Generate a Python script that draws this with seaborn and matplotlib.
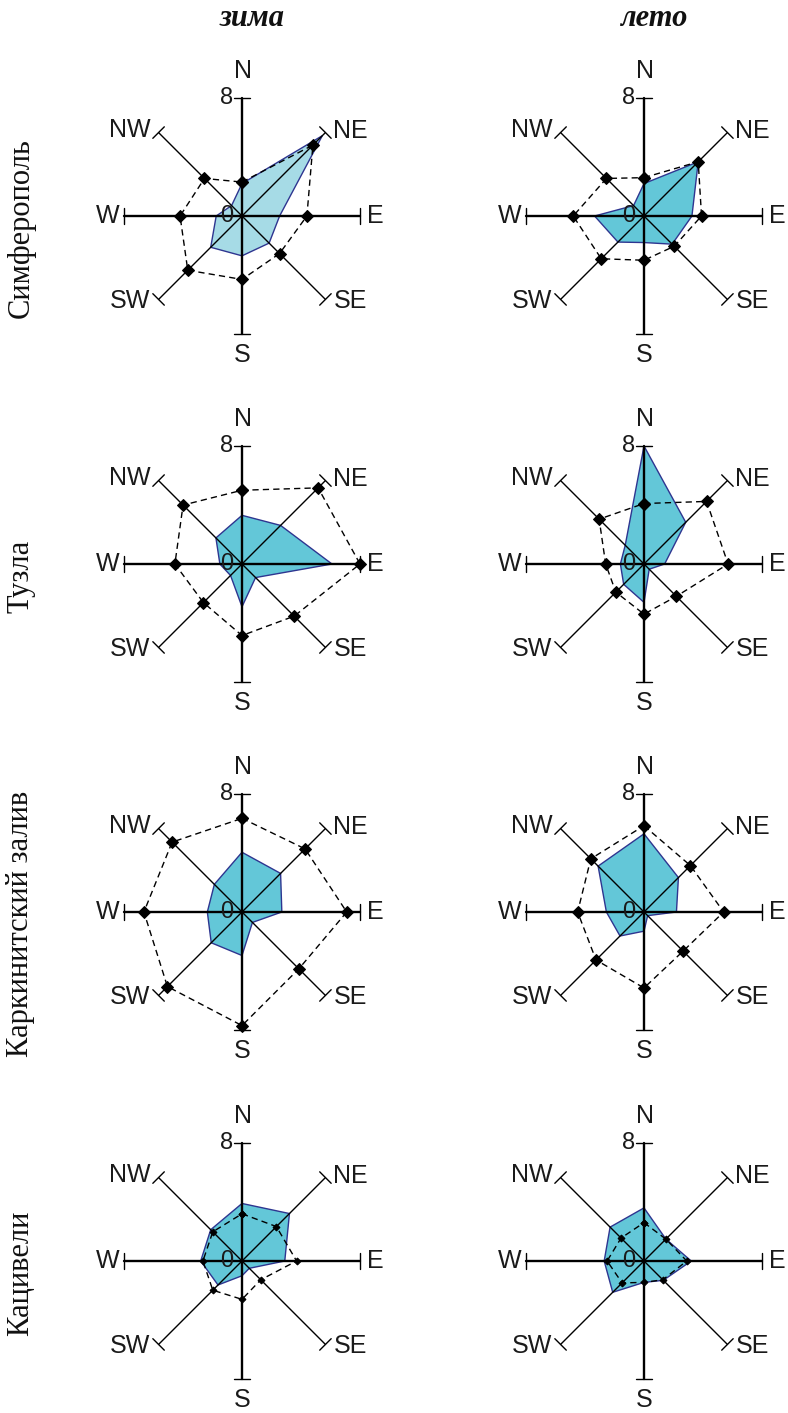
import numpy as np
import matplotlib.pyplot as plt
import seaborn as sns

sns.set_theme(style="white")
plt.rcParams["font.family"] = ["Liberation Sans", "DejaVu Sans"]

# Directions (clockwise from N)
directions = ["N", "NE", "E", "SE", "S", "SW", "W", "NW"]
stations = ["Симферополь", "Тузла", "Каркинитский залив", "Кацивели"]
seasons = ["зима", "лето"]

# Filled polygon (frequency) and dashed polygon (speed), values 0..8
simf_winter_freq = [2.2, 7.7, 2.55, 2.6, 2.7, 3.0, 1.75, 1.0]
simf_winter_speed = [2.3, 6.8, 4.4, 3.6, 4.3, 5.2, 4.2, 3.6]
simf_summer_freq = [2.2, 5.2, 3.25, 2.7, 1.8, 2.5, 3.35, 1.0]
simf_summer_speed = [2.6, 5.2, 3.9, 2.9, 3.0, 4.1, 4.8, 3.6]

tuzla_winter_freq = [3.3, 3.7, 6.1, 1.3, 2.9, 1.1, 1.5, 2.5]
tuzla_winter_speed = [5.0, 7.3, 8.0, 5.0, 4.85, 3.7, 4.55, 5.65]
tuzla_summer_freq = [8.0, 4.0, 1.4, 0.5, 2.6, 1.95, 1.6, 1.8]
tuzla_summer_speed = [4.1, 6.0, 5.7, 3.1, 3.4, 2.7, 2.6, 4.3]

kark_winter_freq = [4.05, 3.7, 2.7, 1.0, 2.95, 2.95, 2.35, 2.65]
kark_winter_speed = [6.35, 6.05, 7.1, 5.45, 7.7, 7.15, 6.65, 6.7]
kark_summer_freq = [5.3, 3.3, 2.2, 0.35, 1.3, 2.3, 2.55, 4.4]
kark_summer_speed = [5.85, 4.45, 5.4, 3.75, 5.15, 4.6, 4.5, 5.1]

kats_winter_freq = [3.9, 4.55, 2.9, 0.7, 1.0, 2.3, 2.8, 3.0]
kats_winter_speed = [3.2, 3.3, 3.7, 1.8, 2.6, 2.8, 2.65, 2.8]
kats_summer_freq = [3.6, 2.1, 3.2, 1.85, 1.45, 3.0, 2.7, 3.25]
kats_summer_speed = [2.6, 2.1, 2.9, 1.8, 1.45, 2.1, 2.5, 2.2]

panels = [
    [(simf_winter_freq, simf_winter_speed), (simf_summer_freq, simf_summer_speed)],
    [(tuzla_winter_freq, tuzla_winter_speed), (tuzla_summer_freq, tuzla_summer_speed)],
    [(kark_winter_freq, kark_winter_speed), (kark_summer_freq, kark_summer_speed)],
    [(kats_winter_freq, kats_winter_speed), (kats_summer_freq, kats_summer_speed)],
]

W, H = 788, 1413
fig = plt.figure(figsize=(W / 100, H / 100), dpi=100)

col_x = [242, 644]
row_y = [216, 564, 912, 1261]
side = 295  # px; r=10 at the edge -> r=8 is 118 px

theta = np.deg2rad(np.arange(8) * 45)
theta_closed = np.append(theta, 2 * np.pi)

label_offsets = {
    "N": (1, 27, "center", "center"),
    "NE": (8, 2, "left", "center"),
    "E": (7, 0, "left", "center"),
    "SE": (8, -2, "left", "center"),
    "S": (0, -21, "center", "center"),
    "SW": (-8, -2, "right", "center"),
    "W": (-4, 0, "right", "center"),
    "NW": (-8, 3, "right", "center"),
}

for i in range(4):
    for j in range(2):
        freq, speed = panels[i][j]
        cx, cy = col_x[j], row_y[i]
        ax = fig.add_axes([(cx - side / 2) / W, (H - cy - side / 2) / H, side / W, side / H],
                          projection="polar")
        ax.set_theta_zero_location("N")
        ax.set_theta_direction(-1)
        ax.set_ylim(0, 10)
        ax.set_axis_off()

        face = "#a6dbe6" if (i == 0 and j == 0) else "#63c7d8"
        ax.fill(theta_closed, np.append(freq, freq[0]), facecolor=face,
                edgecolor="#2e3590", lw=1.0, zorder=1)

        # direction axes with end ticks
        h = 0.55
        for k, a in enumerate(theta):
            lw = 1.7 if k % 2 == 0 else 1.0
            ax.plot([a, a], [0, 8], color="black", lw=lw, zorder=2, clip_on=False)
            da = np.arctan(h / 8)
            rr = np.hypot(8, h)
            ax.plot([a - da, a + da], [rr, rr], color="black", lw=1.0, zorder=2, clip_on=False)
            dx, dy, ha, va = label_offsets[directions[k]]
            ax.annotate(directions[k], (a, 8), xytext=(dx, dy), textcoords="offset pixels",
                        ha=ha, va=va, fontsize=18, color="#1a1a1a", annotation_clip=False)

        ax.annotate("8", (0, 8), xytext=(-9, 0), textcoords="offset pixels",
                    ha="right", va="center", fontsize=17, color="#1a1a1a")
        ax.annotate("0", (0, 0), xytext=(-9, 0), textcoords="offset pixels",
                    ha="right", va="center", fontsize=17, color="#1a1a1a", zorder=5)

        ms = 3.5 if i == 3 else 6
        sns.lineplot(x=theta_closed, y=np.append(speed, speed[0]), ax=ax, sort=False,
                     estimator=None, color="black", lw=1.0, linestyle=(0, (4.5, 3)),
                     marker="D", markersize=ms, markeredgecolor="black", zorder=3,
                     legend=False, clip_on=False)
        ax.set_ylim(0, 10)

# column titles
for j, s in enumerate(seasons):
    fig.text((col_x[j] + 10) / W, 1 - 19 / H, s, ha="center", va="center", color="#111111",
             fontsize=22, family="Liberation Serif", weight="bold", style="italic")

# row labels
for i, st in enumerate(stations):
    fig.text(21 / W, 1 - (row_y[i] + 12) / H, st, ha="center", va="center",
             rotation=90, fontsize=22, family="Liberation Serif", color="#111111")

fig.savefig("out.png", dpi=100)
